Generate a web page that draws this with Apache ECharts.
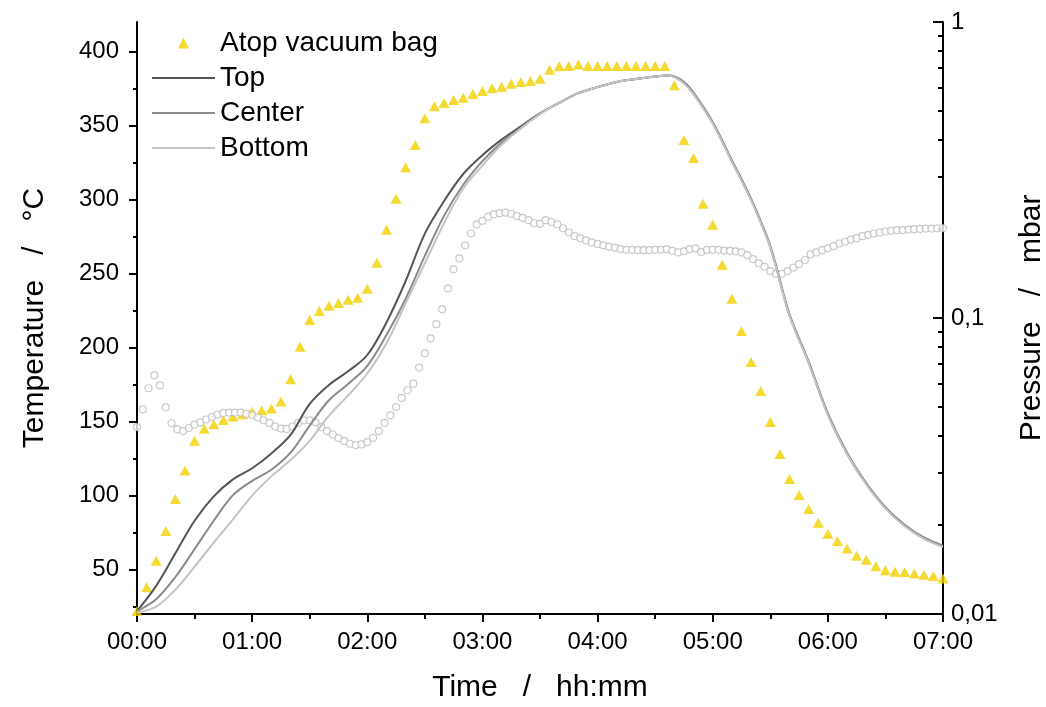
<!DOCTYPE html>
<html><head><meta charset="utf-8">
<script src="https://cdn.jsdelivr.net/npm/echarts@6/dist/echarts.min.js"></script>
<style>html,body{margin:0;padding:0;background:#fff}#c{width:1046px;height:707px}</style>
</head><body><div id="c"></div>
<script>
// ---- axis ticks / labels ----
const xTickMinutes = [0, 60, 120, 180, 240, 300, 360, 420];
const xTickLabels = ['00:00', '01:00', '02:00', '03:00', '04:00', '05:00', '06:00', '07:00'];
const tempTicks = [50, 100, 150, 200, 250, 300, 350, 400];
const tempMinorTicks = [25, 75, 125, 175, 225, 275, 325, 375];
const pressureTicks = [0.01, 0.1, 1];
const pressureTickLabels = ['0,01', '0,1', '1'];
const pressureMinorTicks = [0.02, 0.03, 0.04, 0.05, 0.06, 0.07, 0.08, 0.09, 0.2, 0.3, 0.4, 0.5, 0.6, 0.7, 0.8, 0.9];

// ---- Atop vacuum bag (minutes, °C) ----
const bagTime = [0,5,10,15,20,25,30,35,40,45,50,55,60,65,70,75,80,85,90,95,100,105,110,115,120,125,130,135,140,145,150,155,160,165,170,175,180,185,190,195,200,205,210,215,220,225,230,235,240,245,250,255,260,265,270,275,280,285,290,295,300,305,310,315,320,325,330,335,340,345,350,355,360,365,370,375,380,385,390,395,400,405,410,415,420];
const bagTemp = [22,38,56,76,97.7,117,137,145.2,148.2,151.1,
153.4,155,156.7,157.7,158.8,163.5,178.6,200.5,218.7,224.8,
228.2,230.2,232.3,233.6,239.7,257.3,279.6,300.6,321.8,336.9,
354.9,363,365.3,367.3,368.9,371.4,373.4,375.2,376.3,378.2,
379.5,380.2,381.7,387.8,390.1,390.3,391.2,390.3,390.3,390.3,
390.3,390.3,390.3,390.3,390.3,390.3,377.2,340.3,328.1,297.2,
283,256,233,211.3,190.3,170.7,149.8,128.1,111.2,100.4,
91,81.7,74.3,69.3,64.3,59.4,56.7,52.2,49.5,48.5,
48.3,47.4,46.5,45.6,44];

// ---- thermocouples (minutes, °C) ----
const lineTime = [0,10,20,30,40,50,60,70,80,90,100,110,120,130,140,150,160,170,180,190,200,210,220,230,240,250,260,270,276,280,285,290,300,310,320,330,340,350,360,370,380,390,400,410,420];
const topTemp = [22,39,61,83,99.5,111,118.5,128.5,141,162,
174.8,184,195,217,245,277,299,317.3,330,340.5,
349.5,358.2,365.4,371.9,376,379.5,381.5,383.1,383.8,383,
379,371.7,351.8,326,300,268,222,190,155,128.5,
108,91.7,79.8,71.2,65.7];
const centerTemp = [22,30,45,63.8,83,100.3,110,117.5,129,147.3,
164.4,175.4,187.7,208.5,233,262,289,310,326,338.5,
348.5,358,365.4,371.9,376,379.5,381.5,383.1,383.8,383.2,
379.6,372.3,352.4,326.6,300.6,268.6,222.6,190.6,155.6,129,
108.5,92.2,80.3,71.7,66.2];
const bottomTemp = [21,25,36.5,52,68.3,83.9,100,113,124,137,
154,167.7,182.5,203,230,257,284,307.5,323,337,
348,357.8,365.4,371.9,376,379.5,381.5,383.1,383.8,382.8,
378.4,371.1,351.2,325.4,299.4,267.4,221.4,189.4,154.4,128,
107.5,91.2,79.3,70.7,65.2];

// ---- pressure (minutes, mbar) ----
const pressureTime = [0,3,6,9,12,15,18,21,24,27,30,33,36,39,42,45,48,51,54,57,60,63,66,69,72,75,78,81,84,87,90,93,96,99,102,105,108,111,114,117,120,123,126,129,132,135,138,141,144,147,150,153,156,159,162,165,168,171,174,177,180,183,186,189,192,195,198,201,204,207,210,213,216,219,222,225,228,231,234,237,240,243,246,249,252,255,258,261,264,267,270,273,276,279,282,285,288,291,294,297,300,303,306,309,312,315,318,321,324,327,330,333,336,339,342,345,348,351,354,357,360,363,366,369,372,375,378,381,384,387,390,393,396,399,402,405,408,411,414,417,420];
const pressureValue = [0.0428,0.0491,0.0579,0.0640,0.0592,0.0499,0.0441,0.0421,0.0415,0.0425,
0.0436,0.0444,0.0454,0.0463,0.0472,0.0478,0.0479,0.0479,0.0479,0.0474,
0.0469,0.0461,0.0451,0.0442,0.0430,0.0423,0.0422,0.0430,0.0442,0.0451,
0.0451,0.0444,0.0428,0.0415,0.0404,0.0393,0.0384,0.0376,0.0372,0.0374,
0.0381,0.0394,0.0415,0.0442,0.0469,0.0500,0.0537,0.0570,0.0600,0.0680,
0.0760,0.0854,0.0953,0.107,0.126,0.146,0.159,0.176,0.193,0.207,
0.213,0.220,0.224,0.226,0.227,0.225,0.221,0.218,0.214,0.209,
0.208,0.214,0.211,0.207,0.201,0.1945,0.189,0.186,0.183,0.180,
0.178,0.176,0.174,0.173,0.171,0.170,0.170,0.1695,0.1695,0.1695,
0.170,0.170,0.171,0.1686,0.1665,0.168,0.171,0.172,0.167,0.170,
0.170,0.170,0.169,0.1686,0.168,0.1665,0.163,0.158,0.153,0.149,
0.144,0.141,0.141,0.144,0.148,0.152,0.157,0.164,0.1665,0.1695,
0.172,0.175,0.1785,0.181,0.184,0.186,0.189,0.191,0.193,0.1945,
0.196,0.197,0.198,0.198,0.199,0.1995,0.200,0.2005,0.2005,0.201,
0.201];

const FONT = 'Liberation Sans, Arial, sans-serif';
const pairs = (t, v) => t.map((x, i) => [x, v[i]]);
const black = '#000';
const C_BAG = '#f2d100', C_TOP = '#555555', C_CEN = '#8a8a8a', C_BOT = '#c4c4c4';
// legend icons: bounding box fixed to 63x11 so shapes are not stretched
const ICON_TRI = 'path://M0,0 M63,11 M26,11 L31.5,0 L37,11 Z';
const ICON_LINE = 'path://M0,0 M63,11 M0,4.5 L63,4.5 L63,6.5 L0,6.5 Z';

const chart = echarts.init(document.getElementById('c'), null, {renderer: 'canvas'});
chart.setOption({
  animation: false,
  backgroundColor: '#fff',
  textStyle: {fontFamily: FONT},
  grid: {left: 137, right: 103, top: 22, bottom: 93, outerBoundsMode: 'none'},
  legend: {
    orient: 'vertical', left: 147, top: 24,
    itemWidth: 63, itemHeight: 11, itemGap: 7,
    textStyle: {fontSize: 28, color: black, fontFamily: FONT},
    data: [
      {name: 'Atop vacuum bag', icon: ICON_TRI, itemStyle: {color: C_BAG}},
      {name: 'Top', icon: ICON_LINE, itemStyle: {color: C_TOP}},
      {name: 'Center', icon: ICON_LINE, itemStyle: {color: C_CEN}},
      {name: 'Bottom', icon: ICON_LINE, itemStyle: {color: C_BOT}}
    ]
  },
  xAxis: {
    type: 'value', min: 0, max: 420, interval: 60,
    name: 'Time   /   hh:mm', nameLocation: 'middle', nameGap: 59,
    nameTextStyle: {fontSize: 30, color: black, fontFamily: FONT},
    axisLine: {lineStyle: {color: black, width: 2}},
    axisTick: {length: 8, lineStyle: {color: black, width: 2}},
    minorTick: {show: true, splitNumber: 2, length: 5, lineStyle: {color: black, width: 2}},
    axisLabel: {fontSize: 24, color: black, margin: 16, fontFamily: FONT,
      formatter: v => xTickLabels[xTickMinutes.indexOf(v)] || ''},
    splitLine: {show: false}, minorSplitLine: {show: false}
  },
  yAxis: [
    {
      type: 'value', min: 20, max: 420, position: 'left',
      name: 'Temperature   /   \u00B0C', nameLocation: 'middle', nameGap: 87,
      nameTextStyle: {fontSize: 30, color: black, fontFamily: FONT},
      axisLine: {show: true, lineStyle: {color: black, width: 2}},
      axisTick: {show: true, length: 8, customValues: tempTicks, lineStyle: {color: black, width: 2}},
      axisLabel: {show: true, fontSize: 24, color: black, margin: 18, customValues: tempTicks, fontFamily: FONT},
      splitLine: {show: false}
    },
    {
      type: 'value', min: 20, max: 420, position: 'left',
      axisLine: {show: false},
      axisTick: {show: true, length: 4, customValues: tempMinorTicks, lineStyle: {color: black, width: 2}},
      axisLabel: {show: false},
      splitLine: {show: false}
    },
    {
      type: 'log', logBase: 10, min: 0.01, max: 1, position: 'right',
      name: 'Pressure   /   mbar', nameLocation: 'middle', nameGap: 74,
      nameTextStyle: {fontSize: 30, color: black, fontFamily: FONT},
      axisLine: {show: true, lineStyle: {color: black, width: 2}},
      axisTick: {show: true, inside: true, length: 10, customValues: pressureTicks, lineStyle: {color: black, width: 2}},
      axisLabel: {show: true, fontSize: 24, color: black, margin: 8, customValues: pressureTicks, fontFamily: FONT,
        formatter: v => {
          let best = 0;
          pressureTicks.forEach((p, i) => {
            if (Math.abs(Math.log10(p) - Math.log10(v)) < Math.abs(Math.log10(pressureTicks[best]) - Math.log10(v))) best = i;
          });
          return pressureTickLabels[best];
        }},
      splitLine: {show: false}
    },
    {
      type: 'log', logBase: 10, min: 0.01, max: 1, position: 'right',
      axisLine: {show: false},
      axisTick: {show: true, inside: true, length: 5, customValues: pressureMinorTicks, lineStyle: {color: black, width: 2}},
      axisLabel: {show: false},
      splitLine: {show: false}
    }
  ],
  series: [
    {
      name: 'Atop vacuum bag', type: 'scatter', yAxisIndex: 0, z: 2,
      symbol: 'triangle', symbolSize: [11, 10],
      itemStyle: {color: C_BAG},
      data: pairs(bagTime, bagTemp)
    },
    {
      name: 'Pressure', type: 'scatter', yAxisIndex: 2, z: 3,
      symbol: 'circle', symbolSize: 7,
      itemStyle: {color: '#fff', borderColor: '#bdbdbd', borderWidth: 1.2},
      data: pairs(pressureTime, pressureValue)
    },
    {
      name: 'Top', type: 'line', yAxisIndex: 0, z: 4, symbol: 'none', smooth: 0.35,
      lineStyle: {color: C_TOP, width: 2},
      itemStyle: {color: C_TOP},
      data: pairs(lineTime, topTemp)
    },
    {
      name: 'Center', type: 'line', yAxisIndex: 0, z: 4, symbol: 'none', smooth: 0.35,
      lineStyle: {color: C_CEN, width: 2},
      itemStyle: {color: C_CEN},
      data: pairs(lineTime, centerTemp)
    },
    {
      name: 'Bottom', type: 'line', yAxisIndex: 0, z: 4, symbol: 'none', smooth: 0.35,
      lineStyle: {color: C_BOT, width: 2},
      itemStyle: {color: C_BOT},
      data: pairs(lineTime, bottomTemp)
    }
  ]
});
</script></body></html>
